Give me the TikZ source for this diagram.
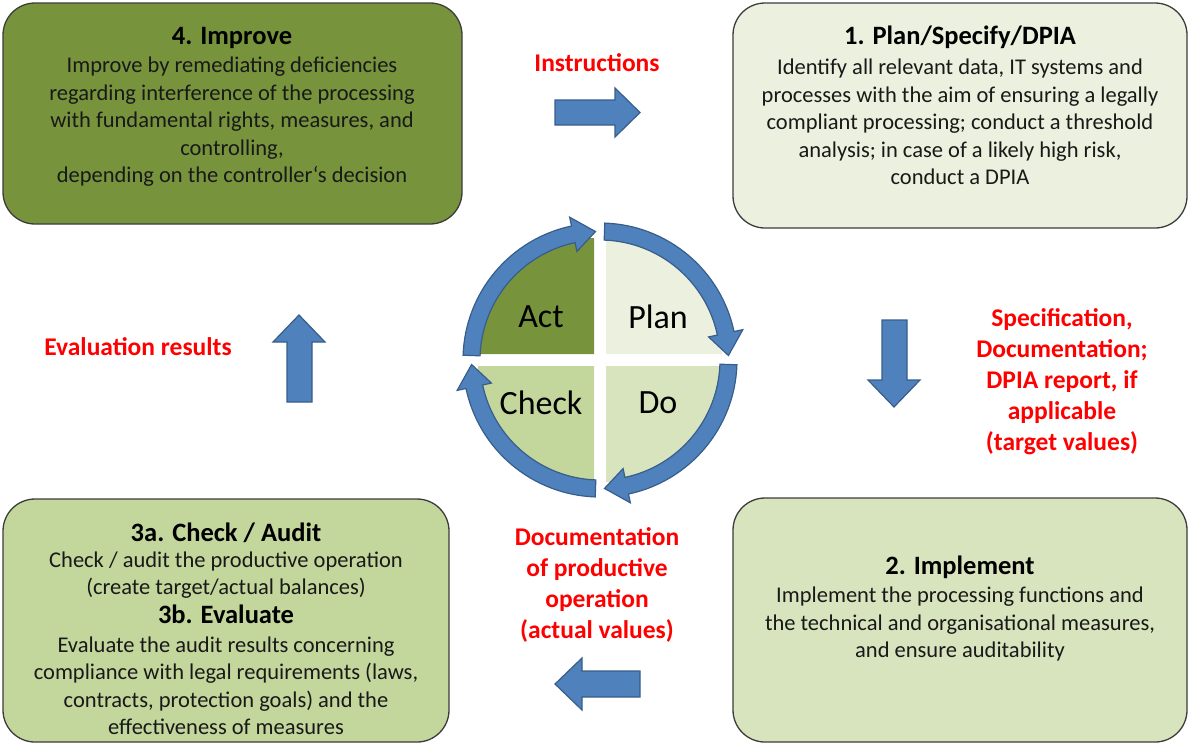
\documentclass[tikz,border=0pt]{standalone}
\usepackage{fontspec}
\setmainfont{Carlito}
\definecolor{actgreen}{HTML}{77933C}
\definecolor{plangreen}{HTML}{EBF1DE}
\definecolor{dogreen}{HTML}{D7E4BD}
\definecolor{checkgreen}{HTML}{C3D69B}
\definecolor{arrowblue}{HTML}{4F81BD}
\definecolor{arrowedge}{HTML}{385D8A}
\definecolor{boxedge}{HTML}{3C3C3C}
\definecolor{labelred}{HTML}{FF0000}
\tikzset{
  phasebox/.style={draw=boxedge,line width=1.3pt,rounded corners=32pt,inner sep=0pt},
  phasetitle/.style={anchor=base,font=\bfseries\fontsize{26.5}{30}\selectfont},
  phasetext/.style={align=center,text=black!90,font=\fontsize{22.5}{27.5}\selectfont},
  flowlabel/.style={align=center,text=labelred,font=\bfseries\fontsize{25.5}{31}\selectfont},
  quarter/.style={font=\fontsize{34}{38}\selectfont},
  blockarrow/.style={fill=arrowblue,draw=arrowedge,line width=1.2pt,line join=miter},
}
\begin{document}
\begin{tikzpicture}[x=1pt,y=-1pt]
 \useasboundingbox (0,0) rectangle (1190,745);
 % Kaesten
 \node[phasebox,fill=actgreen,minimum width=459pt,minimum height=221pt] (improve) at (232.5,113.5) {};
 \node[phasebox,fill=plangreen,minimum width=454pt,minimum height=225pt] (plan) at (960,115.5) {};
 \node[phasebox,fill=checkgreen,minimum width=446pt,minimum height=243pt] (check) at (226,620.5) {};
 \node[phasebox,fill=dogreen,minimum width=454pt,minimum height=244pt] (implement) at (960,620) {};
 % Texte
 \node[phasetitle] (improvetitle) at (232,44) {4. Improve};
 \node[phasetext] (improvetext) at (232,122) {Improve by remediating deficiencies\\regarding interference of the processing\\with fundamental rights, measures, and\\controlling,\\depending on the controller‘s decision};
 \node[phasetitle] (plantitle) at (960,44) {1. Plan/Specify/DPIA};
 \node[phasetext] (plantext) at (960,122) {Identify all relevant data, IT systems and\\processes with the aim of ensuring a legally\\compliant processing; conduct a threshold\\analysis; in case of a likely high risk,\\conduct a DPIA};
 \node[phasetitle] (checktitle) at (226,541) {3a. Check / Audit};
 \node[phasetext] (checktext) at (226,575) {Check / audit the productive operation\\(create target/actual balances)};
 \node[phasetitle] (evaltitle) at (226,623) {3b. Evaluate};
 \node[phasetext] (evaltext) at (226,686) {Evaluate the audit results concerning\\compliance with legal requirements (laws,\\contracts, protection goals) and the\\effectiveness of measures};
 \node[phasetitle] (implementtitle) at (960,574) {2. Implement};
 \node[phasetext] (implementtext) at (960,624) {Implement the processing functions and\\the technical and organisational measures,\\and ensure auditability};
 % rote Beschriftungen
 \node[flowlabel] (instructions) at (597,63) {Instructions};
 \node[flowlabel] (specification) at (1062,382) {Specification,\\Documentation;\\DPIA report, if\\applicable\\(target values)};
 \node[flowlabel] (documentation) at (597,585) {Documentation\\of productive\\operation\\(actual values)};
 \node[flowlabel] (evaluation) at (138,347) {Evaluation results};
 % Blockpfeile
 \draw[blockarrow] (555,100) -- (615,100) -- (615,88) -- (640,112.5) -- (615,137) -- (615,125) -- (555,125) -- cycle; %rechts
 \draw[blockarrow] (882,320) -- (907,320) -- (907,380) -- (920,380) -- (894,407) -- (868,380) -- (882,380) -- cycle; %unten
 \draw[blockarrow] (640,671) -- (582,671) -- (582,658) -- (555,684) -- (582,710) -- (582,697) -- (640,697) -- cycle; %links
 \draw[blockarrow] (287,402) -- (287,342) -- (273,342) -- (299,315) -- (325,342) -- (312,342) -- (312,402) -- cycle; %oben
 % PDCA-Kreis
 \coordinate (pdca) at (600,360);
 \begin{scope}[shift={(pdca)}]
  \fill[actgreen] (-6pt,6pt) -- (-122pt,6pt) arc[start angle=180,end angle=90,radius=116pt] -- cycle;
  \fill[plangreen] (6pt,6pt) -- (6pt,122pt) arc[start angle=90,end angle=0,radius=116pt] -- cycle;
  \fill[dogreen] (6pt,-6pt) -- (122pt,-6pt) arc[start angle=0,end angle=-90,radius=116pt] -- cycle;
  \fill[checkgreen] (-6pt,-6pt) -- (-6pt,-122pt) arc[start angle=-90,end angle=-180,radius=116pt] -- cycle;
  \foreach \s in {178,88,-2,-92} {
   \pgfmathsetmacro\e{\s-86}
   \pgfmathsetmacro\h{\e+10}
   \draw[blockarrow] (\s:137pt) arc[start angle=\s,end angle=\h,radius=137pt] -- (\h:146pt) -- (\e:128.5pt) -- (\h:111pt) -- (\h:120pt) arc[start angle=\h,end angle=\s,radius=120pt] -- cycle;
  }
 \end{scope}
 \node[quarter] (act) at (541,317) {Act};
 \node[quarter] (planq) at (658,317) {Plan};
 \node[quarter] (checkq) at (541,403) {Check};
 \node[quarter] (do) at (658,403) {Do};
\end{tikzpicture}
\end{document}
